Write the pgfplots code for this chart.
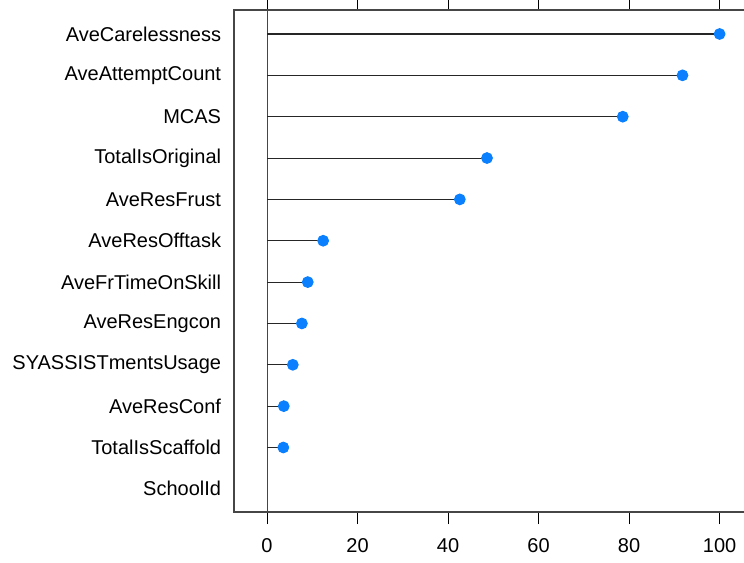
\documentclass[border=0pt]{standalone}
\usepackage{pgfplots}
\pgfplotsset{compat=1.18}
\usepackage{fontspec}
\setmainfont{Liberation Sans}
\definecolor{dotblue}{RGB}{10,128,255}
\definecolor{axgray}{RGB}{70,70,70}
\begin{document}
\fontsize{15}{18}\selectfont
\begin{tikzpicture}
\begin{axis}[
  scale only axis,
  width=389pt, height=376.5pt,
  xmin=-7.3, xmax=107.3,
  ymin=0.44, ymax=12.58,
  axis line style={axgray, line width=0.8pt},
  xtick={0,20,40,60,80,100},
  xtick pos=both, xticklabel pos=lower,
  tick align=outside,
  x tick style={black, line width=0.8pt},
  major tick length=9pt,
  ytick={1,2,3,4,5,6,7,8,9,10,11,12},
  yticklabels={SchoolId,TotalIsScaffold,AveResConf,SYASSISTmentsUsage,AveResEngcon,AveFrTimeOnSkill,AveResOfftask,AveResFrust,TotalIsOriginal,MCAS,AveAttemptCount,AveCarelessness},
  y tick style={draw=none},
  ytick pos=left,
  yticklabel style={anchor=east, xshift=4.5pt},
  xticklabel style={yshift=-5.5pt},
  ticklabel style={font=\fontsize{15}{18}\selectfont},
  /pgf/number format/assume math mode=true,
  clip=false,
]
\coordinate (ll) at (rel axis cs:0,0);
\addplot[axgray, line width=0.8pt, forget plot] coordinates {(0,0.44) (0,12.58)};
\addplot[xcomb, black!85, line width=0.8pt, mark=*, mark size=4pt, mark options={dotblue, draw=dotblue, fill=dotblue}] coordinates {
(3.6,2) (3.7,3) (5.7,4) (7.7,5) (9.0,6) (12.4,7) (42.6,8) (48.6,9) (78.6,10) (91.8,11) (100,12)};
\end{axis}
\pgfresetboundingbox
\useasboundingbox ([shift={(-175.5pt,-37.5pt)}]ll) rectangle ([shift={(382.5pt,384pt)}]ll);
\end{tikzpicture}
\end{document}
